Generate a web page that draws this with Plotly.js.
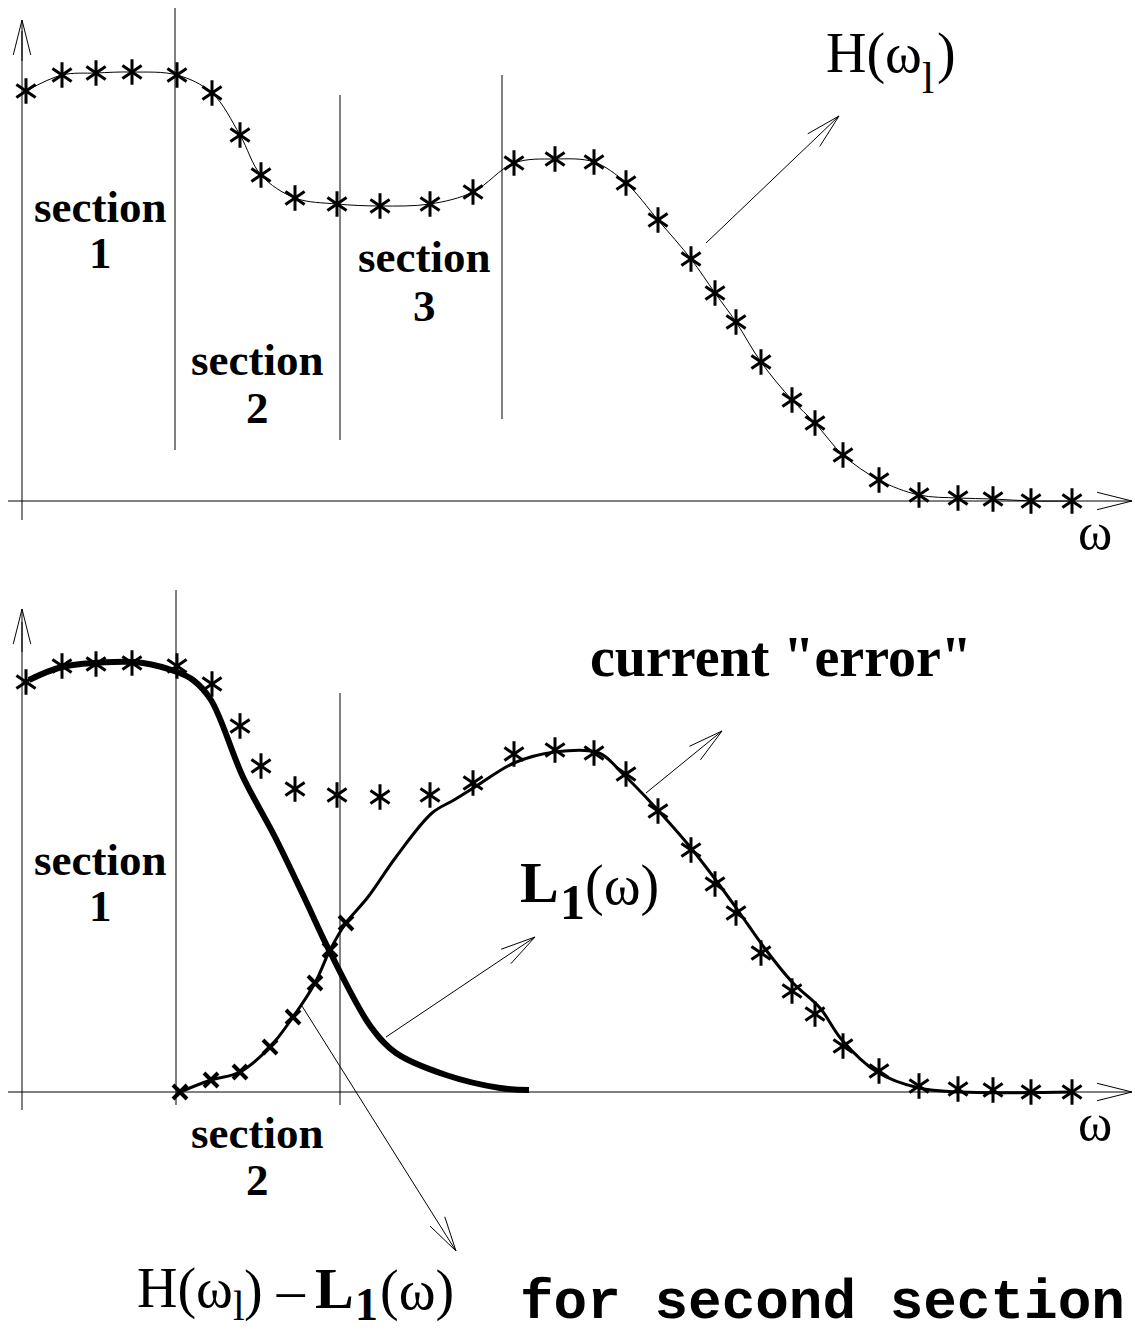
<!DOCTYPE html>
<html>
<head>
<meta charset="utf-8">
<script src="https://cdn.plot.ly/plotly-3.0.1.min.js"></script>
<style>
  html, body { margin: 0; padding: 0; background: #fff; }
  #plot { width: 1135px; height: 1336px; }
</style>
</head>
<body>
<div id="plot"></div>
<script>
// Sample frequencies (omega) and the target response H(omega_l).
// Heights are measured up from the omega axis; both panels use the same samples.
const omega = [4, 40, 74, 110, 155, 190, 218, 239, 273, 315, 358, 408, 451, 492, 533, 572,
               604, 636, 669, 693, 714, 739, 770, 793, 821, 857, 897, 936, 971, 1009, 1050];
const H = [410, 426, 428, 429, 426, 408, 366, 326, 303, 297, 295, 297, 309, 338, 342, 339,
           318, 281, 242, 208, 179, 139, 101, 78, 46, 21, 6, 3, 2, 0, 0];

// First local fit L1(omega) (thick curve, bottom panel)
const L1w = [7, 40, 92, 121, 155, 171, 189, 221, 253, 282, 308, 349, 374, 424, 478, 507];
const L1 = [412, 425, 430, 429, 420, 412, 392, 315, 255, 195, 140, 65, 39, 17, 4, 2];

// Current "error" H - L1 (thin curve, bottom panel); first 8 points carry x markers
const Ew = [158, 189, 218, 248, 271, 293, 308, 324, 346, 374, 410, 432, 453, 492, 533, 577,
            600, 633, 669, 696, 717, 744, 771, 798, 820, 855, 897, 938, 1051];
const E = [0, 12, 20, 45, 75, 109, 142, 169, 195, 235, 279, 292, 305, 329, 340, 339,
           319, 285, 244, 209, 180, 142, 109, 84, 52, 20, 4, 0, 0];
const nCross = 8;

// Section boundaries [omega, yLow, yHigh]
const sectionsTop = [[0, -19, 470], [153, 51, 493], [318, 61, 406], [480, 82, 426]];
const sectionsBottom = [[0, -18, 470], [154, -13, 537], [318, -13, 399]];

// Arrows [x0, y0, x1, y1] (tail -> tip)
const arrowsTop = [[0, 440, 0, 481], [-14, 0, 1110, 0], [684, 258, 817, 385]];
const arrowsBottom = [[0, 440, 0, 483], [-14, 0, 1110, 0], [624, 299, 700, 361],
                      [364, 55, 513, 155], [280, 86, 434, -159]];

// Page geometry: 1 data unit = 1 pixel on both axes
const W = 1135, HT = 1336, SPLIT = 590, TOP0 = 501, BOT0 = 1092;

function line(x0, y0, x1, y1, yref) {
    return {type: 'line', xref: 'x', yref: yref, x0: x0, y0: y0, x1: x1, y1: y1,
            line: {color: 'black', width: 1}};
}

function arrow(a, yref) {
    const [x0, y0, x1, y1] = a;
    const len = 36, ang = 14 * Math.PI / 180;
    const d = Math.hypot(x0 - x1, y0 - y1);
    const ux = (x0 - x1) / d, uy = (y0 - y1) / d;
    const out = [line(x0, y0, x1, y1, yref)];
    [ang, -ang].forEach(t => {
        const c = Math.cos(t), s = Math.sin(t);
        out.push(line(x1, y1, x1 + len * (ux * c - uy * s), y1 + len * (ux * s + uy * c), yref));
    });
    return out;
}

const shapes = [];
sectionsTop.forEach(s => shapes.push(line(s[0], s[1], s[0], s[2], 'y')));
sectionsBottom.forEach(s => shapes.push(line(s[0], s[1], s[0], s[2], 'y2')));
arrowsTop.forEach(a => shapes.push(...arrow(a, 'y')));
arrowsBottom.forEach(a => shapes.push(...arrow(a, 'y2')));

const serif = 'Liberation Serif, Times New Roman, serif';
function label(text, x, y, yref, size, opts) {
    return Object.assign({
        text: text, x: x, y: y, xref: 'x', yref: yref, showarrow: false,
        xanchor: 'center', yanchor: 'middle',
        font: {family: serif, size: size, color: 'black'}
    }, opts || {});
}
// convert page pixel row to panel height
const ty = py => TOP0 - py;
const by = py => BOT0 - py;

const annotations = [
    // top panel
    label('<b>section</b>', 78, ty(207), 'y', 45),
    label('<b>1</b>', 78, ty(253), 'y', 45),
    label('<b>section</b>', 235, ty(360), 'y', 45),
    label('<b>2</b>', 235, ty(408), 'y', 45),
    label('<b>section</b>', 402, ty(257), 'y', 45),
    label('<b>3</b>', 402, ty(306), 'y', 45),
    label('H(ω', 802, ty(53), 'y', 56, {xanchor: 'left'}),
    label('l', 898, ty(78), 'y', 44, {xanchor: 'left'}),
    label(')', 913, ty(53), 'y', 56, {xanchor: 'left'}),
    label('ω', 1073, ty(531), 'y', 52),
    // bottom panel
    label('<b>section</b>', 78, by(860), 'y2', 45),
    label('<b>1</b>', 78, by(906), 'y2', 45),
    label('<b>section</b>', 235, by(1133), 'y2', 45),
    label('<b>2</b>', 235, by(1180), 'y2', 45),
    label('<b>current "error"</b>', 566, by(657), 'y2', 56, {xanchor: 'left'}),
    label('<b>L</b>', 496, by(883), 'y2', 58, {xanchor: 'left'}),
    label('<b>1</b>', 536, by(902), 'y2', 50, {xanchor: 'left'}),
    label('(ω)', 561, by(886), 'y2', 56, {xanchor: 'left'}),
    label('ω', 1073, by(1122), 'y2', 52),
    // caption
    label('H(ω', 113, by(1288), 'y2', 56, {xanchor: 'left'}),
    label('l', 209, by(1306), 'y2', 42, {xanchor: 'left'}),
    label(') –', 220, by(1290), 'y2', 56, {xanchor: 'left'}),
    label('<b>L</b>', 291, by(1288), 'y2', 58, {xanchor: 'left'}),
    label('<b>1</b>', 331, by(1304), 'y2', 46, {xanchor: 'left'}),
    label('(ω)', 356, by(1290), 'y2', 56, {xanchor: 'left'}),
    label('<b>for second section</b>', 496, by(1303), 'y2', 56,
          {xanchor: 'left', font: {family: 'Liberation Mono, Courier New, monospace', size: 56, color: 'black'}})
];

const star = (sym, yaxis) => ({
    x: omega, y: H, yaxis: yaxis, type: 'scatter', mode: 'markers', hoverinfo: 'skip',
    marker: {symbol: sym, size: 16, color: 'black', line: {color: 'black', width: 3}}
});

const traces = [
    // top: H(omega_l) samples joined by a thin curve
    {x: omega, y: H, yaxis: 'y', type: 'scatter', mode: 'lines', hoverinfo: 'skip',
     line: {color: 'black', width: 1, shape: 'spline'}},
    star('y-up-open', 'y'),
    star('y-down-open', 'y'),
    // bottom: L1 and current error
    {x: L1w, y: L1, yaxis: 'y2', type: 'scatter', mode: 'lines', hoverinfo: 'skip',
     line: {color: 'black', width: 6, shape: 'spline'}},
    {x: Ew, y: E, yaxis: 'y2', type: 'scatter', mode: 'lines', hoverinfo: 'skip',
     line: {color: 'black', width: 3, shape: 'spline'}},
    {x: Ew.slice(0, nCross), y: E.slice(0, nCross), yaxis: 'y2', type: 'scatter', mode: 'markers',
     hoverinfo: 'skip',
     marker: {symbol: 'x-thin-open', size: 14, color: 'black', line: {color: 'black', width: 4}}},
    star('y-up-open', 'y2'),
    star('y-down-open', 'y2')
];

const hidden = {visible: false, fixedrange: true, showgrid: false, zeroline: false};
const layout = {
    width: W,
    height: HT,
    margin: {l: 0, r: 0, t: 0, b: 0, pad: 0},
    paper_bgcolor: 'white',
    plot_bgcolor: 'white',
    showlegend: false,
    xaxis: Object.assign({range: [-22, W - 22], domain: [0, 1], anchor: 'y'}, hidden),
    yaxis: Object.assign({range: [TOP0 - SPLIT, TOP0], domain: [1 - SPLIT / HT, 1], anchor: 'x'}, hidden),
    yaxis2: Object.assign({range: [BOT0 - HT, BOT0 - SPLIT], domain: [0, 1 - SPLIT / HT], anchor: 'x'}, hidden),
    shapes: shapes,
    annotations: annotations
};

Plotly.newPlot('plot', traces, layout, {displayModeBar: false, staticPlot: true});
</script>
</body>
</html>
